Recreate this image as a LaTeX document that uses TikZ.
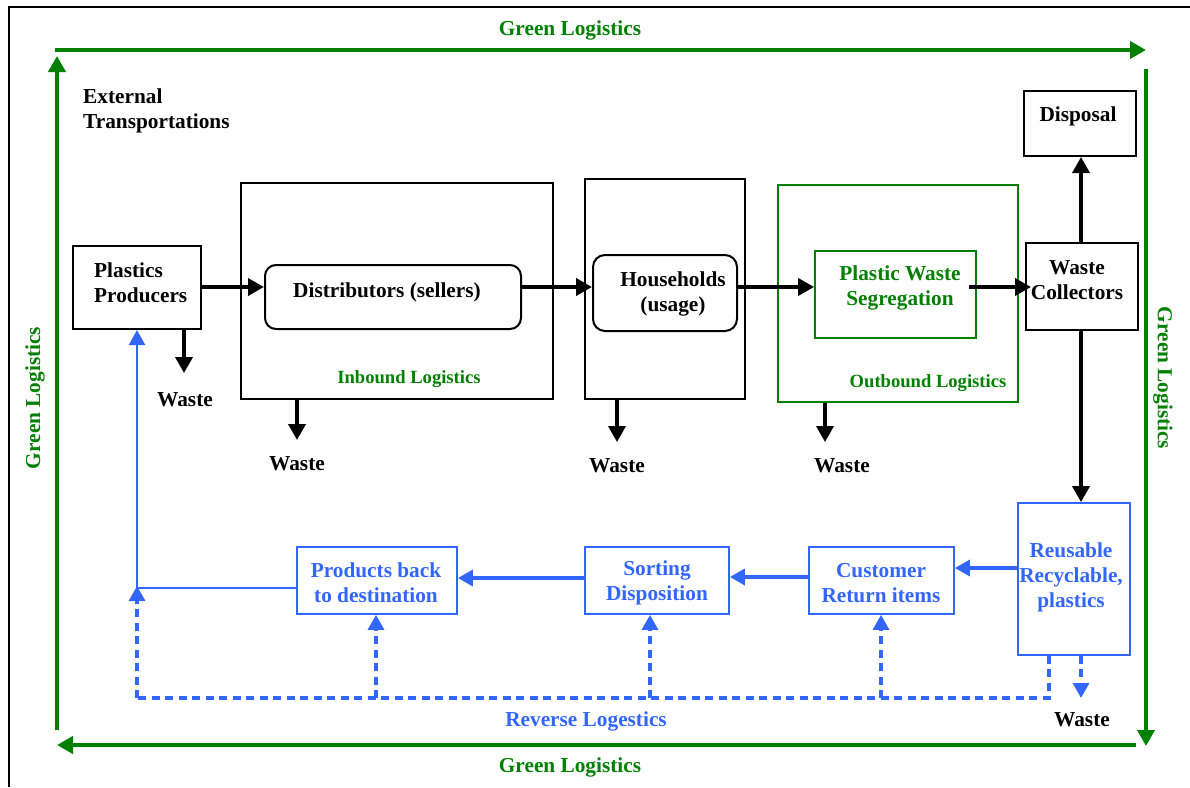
\documentclass[tikz,border=0pt]{standalone}
\usepackage{fontspec}
\setmainfont{Liberation Serif}[BoldFont={Liberation Serif Bold}]
\newfontfamily\tnr{Liberation Serif}[BoldFont={Liberation Serif Bold}]
\usetikzlibrary{arrows.meta}
\definecolor{gl}{RGB}{0,128,0}
\definecolor{rl}{RGB}{51,102,255}
\begin{document}
\begin{tikzpicture}[x=1pt,y=-1pt,
  txt/.style={font=\tnr\bfseries\fontsize{21.3}{25}\selectfont, align=center, inner sep=0pt},
  small/.style={font=\tnr\bfseries\fontsize{18.6}{22}\selectfont, inner sep=0pt},
  bbox/.style={draw, line width=2pt, inner sep=0pt},
  gbox/.style={draw=gl, line width=1.8pt, inner sep=0pt},
  rbox/.style={draw=rl, line width=1.8pt, inner sep=0pt},
  blk/.style={line width=3.6pt, -{Triangle[length=16pt,width=17pt]}},
  grn/.style={gl, line width=4pt, -{Triangle[length=16pt,width=17pt]}},
  bl/.style={rl, line width=3.6pt, -{Triangle[length=15pt,width=16pt]}},
  bld/.style={rl, line width=3.2pt, dash pattern=on 8pt off 5.5pt},
  bldar/.style={bld, -{Triangle[length=15pt,width=16pt]}}
]
\useasboundingbox (0,0) rectangle (1190,787);
% frame
\draw[line width=2pt] (9,787) -- (9,7) -- (1190,7);

% green logistics frame
\coordinate (g1) at (55,50);
\coordinate (g2) at (1146,50);
\coordinate (g3) at (1146,69);
\coordinate (g4) at (1146,746);
\coordinate (g5) at (1136,745);
\coordinate (g6) at (57,745);
\coordinate (g7) at (57,730);
\coordinate (g8) at (57,56);
\draw[grn] (g1) -- (g2);
\draw[grn] (g3) -- (g4);
\draw[grn] (g5) -- (g6);
\draw[grn] (g7) -- (g8);
\node[txt, text=gl] (glt) at (570,30) {Green Logistics};
\node[txt, text=gl] (glb) at (570,767) {Green Logistics};
\node[txt, text=gl, rotate=90] (gll) at (35,398) {Green Logistics};
\node[txt, text=gl, rotate=-90] (glr) at (1163,378) {Green Logistics};

\node[txt, align=left, anchor=north west] (ext) at (83,89) {External\\Transportations};

% containers
\node[bbox, minimum width=312pt, minimum height=216pt] (inb) at (397,291) {};
\node[small, text=gl] (inbT) at (409,379) {Inbound Logistics};
\node[bbox, minimum width=160pt, minimum height=220pt] (hh) at (665,289) {};
\node[gbox, minimum width=240pt, minimum height=217pt] (outb) at (898,293.5) {};
\node[small, text=gl] (outbT) at (928,383) {Outbound Logistics};

% main boxes
\node[bbox, minimum width=128pt, minimum height=83pt] (pp) at (137,287.5) {};
\node[txt, align=left, anchor=west] (ppT) at (94,283) {Plastics\\Producers};
\node[bbox, rounded corners=11pt, minimum width=256pt, minimum height=64pt] (dist) at (393,297) {};
\node[txt] (distT) at (387,292) {Distributors (sellers)};
\node[bbox, rounded corners=12pt, minimum width=144pt, minimum height=76pt] (hhr) at (665,293) {};
\node[txt] (hhrT) at (673,293.5) {Households\\(usage)};
\node[gbox, minimum width=161pt, minimum height=87pt] (pws) at (895.5,294.5) {};
\node[txt, text=gl] (pwsT) at (900,288) {Plastic Waste\\Segregation};
\node[bbox, minimum width=112pt, minimum height=87pt] (wc) at (1082,286.5) {};
\node[txt] (wcT) at (1077,280.5) {Waste\\Collectors};
\node[bbox, minimum width=112pt, minimum height=65pt] (disp) at (1080,123.5) {};
\node[txt] (dispT) at (1078,116) {Disposal};

% reverse boxes
\node[rbox, minimum width=112pt, minimum height=152pt] (reu) at (1074,579) {};
\node[txt, text=rl] (reuT) at (1071,577) {Reusable\\Recyclable,\\plastics};
\node[rbox, minimum width=145pt, minimum height=67pt] (cust) at (881.5,580.5) {};
\node[txt, text=rl] (custT) at (881,583) {Customer\\Return items};
\node[rbox, minimum width=144pt, minimum height=67pt] (sort) at (657,580.5) {};
\node[txt, text=rl] (sortT) at (657,583) {Sorting\\Disposition};
\node[rbox, minimum width=160pt, minimum height=67pt] (prod) at (377,580.5) {};
\node[txt, text=rl] (prodT) at (376,583) {Products back\\to destination};

% waste labels
\node[txt] (w1) at (185,400) {Waste};
\node[txt] (w2) at (297,464) {Waste};
\node[txt] (w3) at (617,466) {Waste};
\node[txt] (w4) at (842,466) {Waste};
\node[txt] (w5) at (1082,720) {Waste};
\node[txt, text=rl] (rev) at (586,721) {Reverse Logestics};

% forward flow
\coordinate (row) at (0,287);
\coordinate (col) at (1081,0);
\draw[blk] (pp.east |- row) -- (dist.west |- row);
\draw[blk] (dist.east |- row) -- (hhr.west |- row);
\draw[blk] (hhr.east |- row) -- (pws.west |- row);
\draw[blk] ([xshift=-8pt]pws.east |- row) -- ([xshift=6pt]wc.west |- row);
\draw[blk] (wc.north -| col) -- (disp.south -| col);
\draw[blk] (wc.south -| col) -- (reu.north -| col);

% waste arrows
\coordinate (wa1) at (184,373);
\coordinate (wa2) at (297,440);
\coordinate (wa3) at (617,442);
\coordinate (wa4) at (825,442);
\draw[blk] (pp.south -| wa1) -- (wa1);
\draw[blk] (inb.south -| wa2) -- (wa2);
\draw[blk] (hh.south -| wa3) -- (wa3);
\draw[blk] (outb.south -| wa4) -- (wa4);

% reverse flow
\draw[bl] (reu.west |- 0,568) -- (cust.east |- 0,568);
\draw[bl] (cust.west |- 0,577) -- (sort.east |- 0,577);
\draw[bl] (sort.west |- 0,578) -- (prod.east |- 0,578);
\coordinate (corner) at (137,588);
\draw[rl, line width=2.2pt, -{Triangle[length=15pt,width=16pt]}] (prod.west |- corner) -- (corner) -- (pp.south -| corner);

% reverse logistics dashed
\coordinate (dl) at (137,698);
\coordinate (dr) at (1049,698);
\coordinate (rw) at (1081,698);
\draw[bld] (reu.south -| dr) -- (dr) -- (dl);
\draw[bldar] (dl) -- ([yshift=2pt]corner);
\draw[bldar] (dl -| 376,0) -- (prod.south -| 376,0);
\draw[bldar] (dl -| 650,0) -- (sort.south -| 650,0);
\draw[bldar] (dl -| 881,0) -- (cust.south -| 881,0);
\draw[bldar] (reu.south -| rw) -- (rw);
\end{tikzpicture}
\end{document}
